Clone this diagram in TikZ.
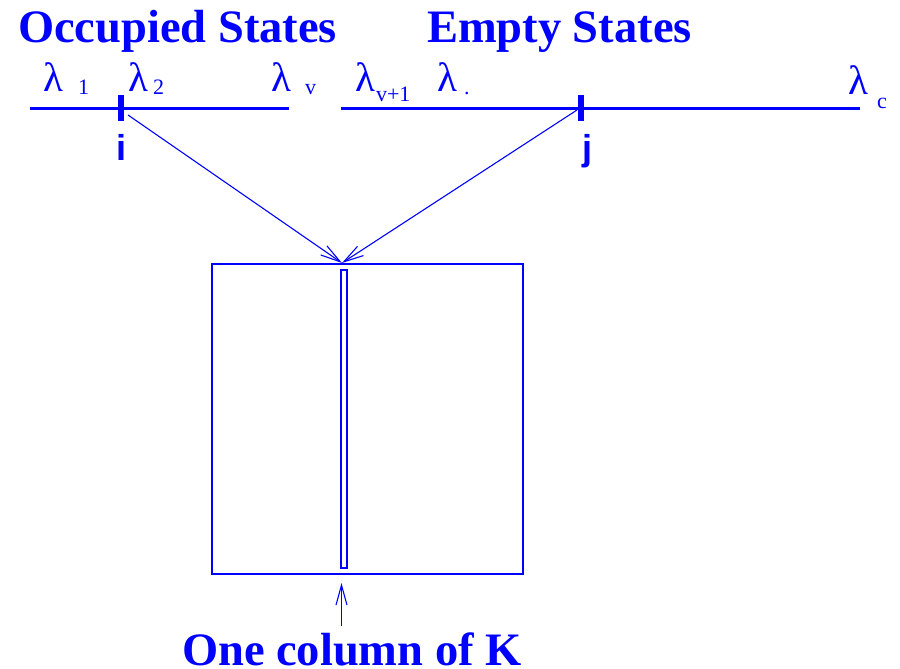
\documentclass[tikz,border=0pt]{standalone}
\usepackage{fontspec}
\setmainfont{Liberation Serif}
\newfontfamily\hsans{Liberation Sans}
\usetikzlibrary{arrows.meta}
\definecolor{pblue}{RGB}{0,0,255}
\begin{document}
\begin{tikzpicture}[x=1pt,y=-1pt,
  every node/.style={inner sep=0pt,outer sep=0pt,text=pblue},
  head/.style={font=\fontsize{46.5}{46.5}\selectfont\bfseries,anchor=base west},
  lam/.style={font=\fontsize{41}{41}\selectfont,anchor=base west},
  sub/.style={font=\fontsize{22}{22}\selectfont,anchor=base west},
  idx/.style={font=\hsans\fontsize{36}{36}\selectfont\bfseries,anchor=base west},
  axis/.style={draw=pblue,line width=3pt},
  tick/.style={draw=pblue,line width=6pt},
  conn/.style={draw=pblue,line width=1.1pt,-{Straight Barb[length=20pt,width=11pt,line width=1.1pt]}},
  frame/.style={draw=pblue,line width=1.4pt}]
\useasboundingbox (0,0) rectangle (900,669);
% headings
\node[head] (occ) at (18,43) {Occupied States};
\node[head] (emp) at (427,43) {Empty States};
% lambdas
\node[lam] (l1) at (43,92) {λ};
\node[sub] (s1) at (78,95) {1};
\node[lam] (l2) at (128,92) {λ};
\node[sub] (s2) at (153,95) {2};
\node[lam] (lv) at (271,92) {λ};
\node[sub] (sv) at (305,95) {v};
\node[lam] (lv1) at (355,92) {λ};
\node[sub] (sv1) at (376,102) {v+1};
\node[lam] (ld) at (437,92) {λ};
\node[sub] (sd) at (464,95) {.};
\node[lam] (lc) at (848,95) {λ};
\node[sub] (sc) at (877,108) {c};
% axes
\coordinate (a1) at (30,108);
\coordinate (a2) at (289,108);
\coordinate (b1) at (341,108);
\coordinate (b2) at (860,108);
\draw[axis] (a1) -- (a2);
\draw[axis] (b1) -- (b2);
\coordinate (ti1) at (120.5,95);
\coordinate (ti2) at (120.5,121);
\coordinate (tj1) at (581,95);
\coordinate (tj2) at (581,121);
\draw[tick] (ti1) -- (ti2);
\draw[tick] (tj1) -- (tj2);
\node[idx] (i) at (116,160) {i};
\node[idx] (j) at (582,160) {j};
% box
\node[frame,minimum width=311pt,minimum height=310pt,anchor=north west] (K) at (212,264) {};
\node[frame,minimum width=6pt,minimum height=298pt,anchor=north west] (col) at (341,270) {};
% connectors
\coordinate (fi) at (128,115);
\coordinate (fj) at (577,110);
\coordinate (tip) at (342,263);
\draw[conn] (fi) -- (tip);
\draw[conn] (fj) -- (tip);
\coordinate (ub) at (341.5,626);
\coordinate (ut) at (341.5,583);
\draw[conn] (ub) -- (ut);
\node[head] (one) at (182,665) {One column of K};
\end{tikzpicture}
\end{document}
